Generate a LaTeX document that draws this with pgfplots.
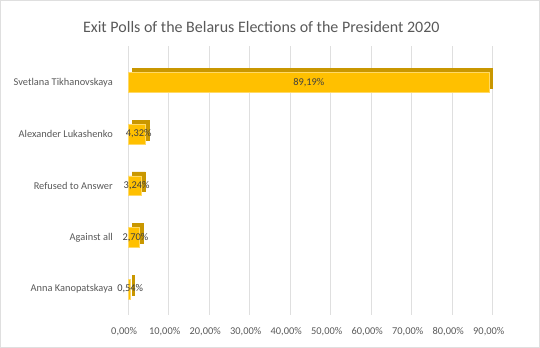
\documentclass[border=0pt]{standalone}
\usepackage{pgfplots}
\pgfplotsset{compat=1.18}
\usepackage{fontspec}
\setmainfont{Carlito}
\definecolor{gold}{HTML}{FFC000}
\definecolor{golddark}{HTML}{C99700}
\definecolor{goldedge}{HTML}{FFD966}
\definecolor{txt}{HTML}{595959}
\definecolor{lbl}{HTML}{404040}
\begin{document}
\begin{tikzpicture}
\path[use as bounding box, draw=gray!25] (0,0) rectangle (405pt,260.25pt);
\node[text=txt, font=\fontsize{12}{14}\selectfont] at (196pt,240pt) {Exit Polls of the Belarus Elections of the President 2020};
\begin{axis}[at={(96pt,24pt)}, anchor=south west, scale only axis,
  width=273.75pt, height=201.75pt,
  xmin=0, xmax=90, ymin=-0.5, ymax=4.7,
  axis line style={draw=none}, major tick length=0pt,
  xmajorgrids, grid style={gray!25, line width=0.6pt},
  xtick={0,10,...,90},
  xticklabels={{0,00\%},{10,00\%},{20,00\%},{30,00\%},{40,00\%},{50,00\%},{60,00\%},{70,00\%},{80,00\%},{90,00\%}},
  ytick={0,1,2,3,4},
  yticklabels={Anna Kanopatskaya, Against all, Refused to Answer, Alexander Lukashenko, Svetlana Tikhanovskaya},
  ticklabel style={font=\fontsize{7.8}{9}\selectfont, text=txt},
  yticklabel style={xshift=-8pt},
  xticklabel style={yshift=-6pt, xshift=-3pt},
]
\addplot[xbar, bar width=15pt, fill=golddark, draw=golddark, xshift=3pt, yshift=3pt]
  coordinates {(89.19,4) (4.32,3) (3.24,2) (2.70,1) (0.54,0)};
\addplot[xbar, bar width=15pt, fill=gold, draw=goldedge]
  coordinates {(89.19,4) (4.32,3) (3.24,2) (2.70,1) (0.54,0)};
\addplot[draw=none, mark=none, nodes near coords, point meta=explicit symbolic,
  nodes near coords style={anchor=center, font=\fontsize{7.8}{9}\selectfont, text=lbl}]
  coordinates {(44.6,4) [89,19\%] (2.6,3) [4,32\%] (2.1,2) [3,24\%] (1.8,1) [2,70\%] (0.5,0) [0,54\%]};
\end{axis}
\end{tikzpicture}
\end{document}
